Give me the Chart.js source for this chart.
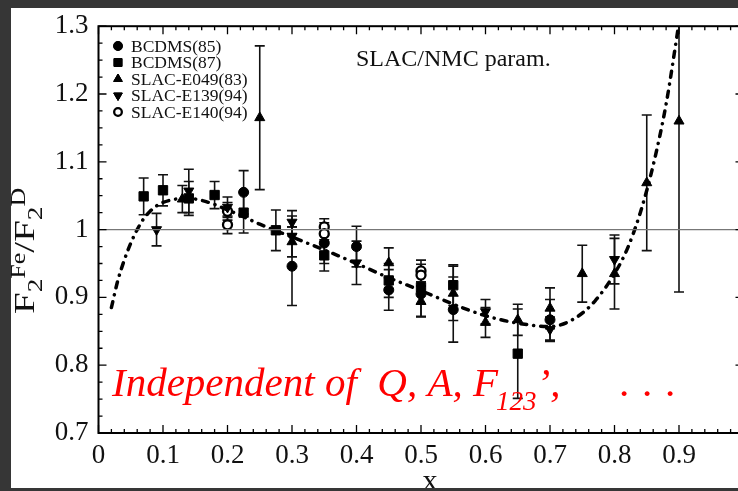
<!DOCTYPE html>
<html>
<head>
<meta charset="utf-8">
<script src="https://cdn.jsdelivr.net/npm/chart.js@4.4.1/dist/chart.umd.min.js"></script>
<style>
  html, body { margin: 0; padding: 0; background: #fff; overflow: hidden; }
  canvas { display: block; }
</style>
</head>
<body>
<canvas id="ratio" width="760" height="491"></canvas>
<script>
// F2(Fe)/F2(D) ratio vs x, data sets with error bars + SLAC/NMC parametrisation

var xTicks = [0, 0.1, 0.2, 0.3, 0.4, 0.5, 0.6, 0.7, 0.8, 0.9];
var yTicks = [0.7, 0.8, 0.9, 1, 1.1, 1.2, 1.3];

var bcdms85X = [0.225, 0.30, 0.35, 0.40, 0.45, 0.50, 0.55, 0.70];
var bcdms85Y = [1.055, 0.946, 0.980, 0.975, 0.911, 0.905, 0.882, 0.867];
var bcdms85E = [0.032, 0.058, 0.030, 0.030, 0.030, 0.033, 0.048, 0.030];

var bcdms87X = [0.07, 0.10, 0.14, 0.18, 0.225, 0.275, 0.35, 0.45, 0.50, 0.55, 0.65];
var bcdms87Y = [1.049, 1.058, 1.046, 1.051, 1.025, 0.999, 0.962, 0.925, 0.915, 0.918, 0.817];
var bcdms87E = [0.027, 0.023, 0.025, 0.020, 0.030, 0.030, 0.023, 0.025, 0.025, 0.030, 0.066];

var e049X = [0.13, 0.25, 0.30, 0.45, 0.50, 0.55, 0.60, 0.65, 0.70, 0.75, 0.80, 0.85, 0.90];
var e049Y = [1.045, 1.165, 0.982, 0.951, 0.894, 0.906, 0.863, 0.867, 0.884, 0.935, 0.935, 1.069, 1.160];
var e049E = [0.020, 0.106, 0.022, 0.022, 0.023, 0.040, 0.022, 0.023, 0.030, 0.042, 0.052, 0.100, 0.252];

var e139X = [0.09, 0.14, 0.20, 0.30, 0.30, 0.40, 0.60, 0.70, 0.80];
var e139Y = [1.000, 1.057, 1.033, 1.011, 0.990, 0.951, 0.879, 0.853, 0.956];
var e139E = [0.024, 0.032, 0.015, 0.017, 0.030, 0.032, 0.018, 0.018, 0.036];

var e140X = [0.20, 0.20, 0.35, 0.35, 0.50, 0.50];
var e140Y = [1.027, 1.007, 1.004, 0.994, 0.939, 0.933];
var e140E = [0.013, 0.013, 0.012, 0.012, 0.016, 0.016];

// SLAC/NMC parametrisation curve
var paramX = [0.02, 0.03, 0.04, 0.05, 0.06, 0.07, 0.08, 0.09, 0.10, 0.12, 0.14, 0.16, 0.18, 0.20, 0.22, 0.25,
  0.30, 0.35, 0.40, 0.45, 0.50, 0.55, 0.60, 0.65, 0.70, 0.74, 0.77, 0.80, 0.82, 0.84, 0.86, 0.88, 0.90];
var paramY = [0.885, 0.925, 0.955, 0.980, 1.000, 1.016, 1.027, 1.035, 1.040, 1.045, 1.046, 1.043, 1.037, 1.029, 1.021, 1.008,
  0.989, 0.970, 0.950, 0.929, 0.910, 0.890, 0.873, 0.862, 0.857, 0.870, 0.895, 0.935, 0.972, 1.025, 1.095, 1.185, 1.305];

var serif = '"Liberation Serif", "DejaVu Serif", serif';

function pts(xs, ys, es) {
  return xs.map(function (x, i) { return { x: x, y: ys[i], e: es ? es[i] : 0 }; });
}

function series(label, xs, ys, es, style, extra) {
  var ds = {
    label: label,
    data: pts(xs, ys, es),
    pointStyle: style,
    pointRadius: 5,
    pointBackgroundColor: '#000',
    pointBorderColor: '#000',
    pointBorderWidth: 1,
    showLine: false,
    errorBars: true
  };
  for (var k in extra) ds[k] = extra[k];
  return ds;
}

var datasets = [
  {
    label: 'unity',
    data: [{ x: 0, y: 1 }, { x: 1, y: 1 }],
    showLine: true, borderColor: '#777', borderWidth: 1.2, pointRadius: 0
  },
  {
    label: 'SLAC/NMC param.',
    data: pts(paramX, paramY),
    showLine: true, borderColor: '#000', borderWidth: 3.5,
    borderDash: [6, 7, 0.1, 7], borderCapStyle: 'round',
    cubicInterpolationMode: 'monotone', pointRadius: 0
  },
  series('BCDMS(85)', bcdms85X, bcdms85Y, bcdms85E, 'circle', { pointRadius: 5 }),
  series('BCDMS(87)', bcdms87X, bcdms87Y, bcdms87E, 'rect', { pointRadius: 6.6 }),
  series('SLAC-E049(83)', e049X, e049Y, e049E, 'triangle', { pointRadius: 5.8 }),
  series('SLAC-E139(94)', e139X, e139Y, e139E, 'triangle', { pointRadius: 5.8, pointRotation: 180 }),
  series('SLAC-E140(94)', e140X, e140Y, e140E, 'circle', { pointRadius: 4.5, pointBackgroundColor: '#fff', pointBorderWidth: 2.3 })
];

// vertical error bars, drawn under the markers
var errorBarPlugin = {
  id: 'errorBars',
  beforeDatasetsDraw: function (chart) {
    var ctx = chart.ctx, a = chart.chartArea;
    var xs = chart.scales.x, ys = chart.scales.y;
    ctx.save();
    ctx.beginPath();
    ctx.rect(a.left, a.top, a.right - a.left, a.bottom - a.top);
    ctx.clip();
    ctx.strokeStyle = '#111';
    ctx.lineWidth = 1.6;
    chart.data.datasets.forEach(function (ds) {
      if (!ds.errorBars) return;
      ds.data.forEach(function (p) {
        var px = xs.getPixelForValue(p.x);
        var top = ys.getPixelForValue(p.y + p.e);
        var bot = ys.getPixelForValue(p.y - p.e);
        ctx.beginPath();
        ctx.moveTo(px, top); ctx.lineTo(px, bot);
        ctx.moveTo(px - 5, top); ctx.lineTo(px + 5, top);
        ctx.moveTo(px - 5, bot); ctx.lineTo(px + 5, bot);
        ctx.stroke();
      });
    });
    ctx.restore();
  }
};

// frame, inward ticks, legend, annotations
var framePlugin = {
  id: 'frame',
  afterDraw: function (chart) {
    var ctx = chart.ctx, a = chart.chartArea;
    var xs = chart.scales.x, ys = chart.scales.y;
    ctx.save();
    ctx.strokeStyle = '#000';
    ctx.lineWidth = 2;
    ctx.strokeRect(a.left, a.top, a.right - a.left, a.bottom - a.top);

    ctx.lineWidth = 1.3;
    ctx.beginPath();
    var i, v, p, len;
    for (i = 0; i <= 50; i++) {
      v = i * 0.02;
      p = xs.getPixelForValue(v);
      len = i % 5 === 0 ? 8 : 4;
      ctx.moveTo(p, a.bottom); ctx.lineTo(p, a.bottom - len);
      ctx.moveTo(p, a.top); ctx.lineTo(p, a.top + len);
    }
    for (i = 0; i <= 24; i++) {
      v = 0.7 + i * 0.025;
      p = ys.getPixelForValue(v);
      len = i % 4 === 0 ? 8 : 4;
      ctx.moveTo(a.left, p); ctx.lineTo(a.left + len, p);
      ctx.moveTo(a.right, p); ctx.lineTo(a.right - len, p);
    }
    ctx.stroke();

    // legend
    var rows = chart.data.datasets.filter(function (d) { return d.errorBars; });
    ctx.font = '17.5px ' + serif;
    ctx.textBaseline = 'middle';
    ctx.textAlign = 'left';
    rows.forEach(function (ds, k) {
      var y = 46 + k * 16.5;
      Chart.helpers.drawPoint(ctx, {
        pointStyle: ds.pointStyle,
        rotation: ds.pointRotation || 0,
        radius: ds.pointRadius * 0.85,
        borderWidth: ds.pointBorderWidth
      }, 118, y);
      ctx.fillStyle = ds.pointBackgroundColor;
      ctx.strokeStyle = '#000';
      ctx.lineWidth = ds.pointBorderWidth;
      ctx.fill();
      ctx.stroke();
      ctx.fillStyle = '#111';
      ctx.fillText(ds.label, 131, y + 1);
    });

    ctx.fillStyle = '#111';
    ctx.font = '24px ' + serif;
    ctx.fillText('SLAC/NMC param.', 356, 60);

    // red statement
    ctx.fillStyle = '#f00';
    ctx.textBaseline = 'alphabetic';
    var x0 = 112, base = 396;
    ctx.font = 'italic 41px ' + serif;
    var s1 = 'Independent of  Q, A, F';
    ctx.fillText(s1, x0, base);
    var x1 = x0 + ctx.measureText(s1).width;
    ctx.font = 'italic 27px ' + serif;
    ctx.fillText('123', x1 - 2, base + 14);
    var x2 = x1 - 2 + ctx.measureText('123').width;
    ctx.font = 'italic 41px ' + serif;
    ctx.fillText('\u2019,', x2, base);
    ['.', '.', '.'].forEach(function (d, j) { ctx.fillText(d, 620 + j * 23, base); });

    // axis titles
    ctx.fillStyle = '#111';
    ctx.font = '30px ' + serif;
    ctx.textAlign = 'center';
    ctx.fillText('x', 430, 490);

    ctx.translate(34, 314);
    ctx.rotate(-Math.PI / 2);
    ctx.scale(1.3, 1);
    ctx.textAlign = 'left';
    var parts = [['F', 30, 0], ['2', 21, 8], ['Fe', 20, -9], ['/', 30, 0], ['F', 30, 0], ['2', 21, 8], ['D', 20, -9]];
    var u = 0;
    parts.forEach(function (q) {
      ctx.font = q[1] + 'px ' + serif;
      ctx.fillText(q[0], u, q[2]);
      u += ctx.measureText(q[0]).width;
    });
    ctx.restore();

    // dark scanned edges
    ctx.save();
    ctx.fillStyle = '#363636';
    ctx.fillRect(0, 0, chart.width, 8);
    ctx.fillRect(0, 0, 11, chart.height);
    ctx.fillRect(0, 488, chart.width, 3);
    ctx.restore();
  }
};

new Chart(document.getElementById('ratio'), {
  type: 'scatter',
  data: { datasets: datasets },
  options: {
    responsive: false,
    animation: false,
    devicePixelRatio: 1,
    layout: { padding: { top: 16, left: 0, right: 16.5, bottom: 0 } },
    plugins: { legend: { display: false }, tooltip: { enabled: false } },
    scales: {
      x: {
        type: 'linear', min: 0, max: 1,
        afterFit: function (s) { s.height = 58; },
        afterBuildTicks: function (s) { s.ticks = xTicks.map(function (v) { return { value: v }; }); },
        grid: { display: false, drawTicks: false },
        border: { display: false },
        ticks: {
          padding: 7, color: '#111', maxRotation: 0, autoSkip: false,
          font: { family: serif, size: 27 },
          callback: function (v) { return String(Math.round(v * 10) / 10); }
        }
      },
      y: {
        type: 'linear', min: 0.7, max: 1.3,
        afterFit: function (s) { s.width = 98.5; },
        afterBuildTicks: function (s) { s.ticks = yTicks.map(function (v) { return { value: v }; }); },
        grid: { display: false, drawTicks: false },
        border: { display: false },
        ticks: {
          padding: 10, color: '#111', autoSkip: false,
          font: { family: serif, size: 27 },
          callback: function (v) { return String(Math.round(v * 10) / 10); }
        }
      }
    }
  },
  plugins: [errorBarPlugin, framePlugin]
});
</script>
</body>
</html>
